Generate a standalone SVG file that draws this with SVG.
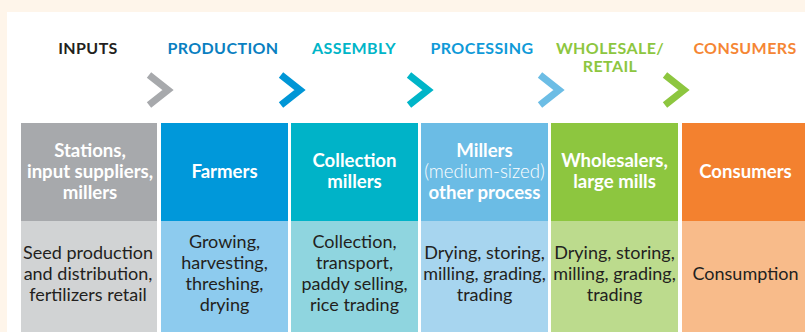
<svg xmlns="http://www.w3.org/2000/svg" width="805" height="332" viewBox="0 0 805 332">
  <style>
    .stage { font-family: Lato, "Open Sans", "Liberation Sans", sans-serif; font-weight: 700; font-size: 16px; text-anchor: middle; letter-spacing: 0.4px; }
    .head { font-family: Lato, "Open Sans", "Liberation Sans", sans-serif; font-weight: 700; font-size: 18.6px; fill: #ffffff; text-anchor: middle; }
    .light { font-weight: 300; }
    .desc { font-family: Lato, "Open Sans", "Liberation Sans", sans-serif; font-weight: 400; font-size: 18px; fill: #231f20; text-anchor: middle; }
    .chev { fill: none; stroke-width: 7; stroke-linecap: butt; stroke-linejoin: miter; stroke-miterlimit: 10; }
  </style>

  <!-- page background and white panel -->
  <rect x="0" y="0" width="805" height="332" fill="#fef5ea"/>
  <rect x="7" y="12" width="798" height="320" fill="#ffffff"/>

  <!-- stage titles -->
  <g id="stage-titles" class="stage">
    <text x="88" y="54" fill="#231f20">INPUTS</text>
    <text x="223" y="54" fill="#0a7fc1">PRODUCTION</text>
    <text x="354" y="54" fill="#00b5c8">ASSEMBLY</text>
    <text x="482" y="54" fill="#0f9ad8">PROCESSING</text>
    <text x="610" y="54" fill="#8dc63f">WHOLESALE/</text>
    <text x="610" y="72" fill="#8dc63f">RETAIL</text>
    <text x="745" y="54" fill="#f58634">CONSUMERS</text>
  </g>

  <!-- flow chevrons between stages -->
  <g id="connectors" class="chev">
    <polyline points="149,75 168,90 149,105" stroke="#a7a9ac"/>
    <polyline points="281,75 300,90 281,105" stroke="#0096d6"/>
    <polyline points="409,75 428,90 409,105" stroke="#00b5c8"/>
    <polyline points="540,75 559,90 540,105" stroke="#6cbde5"/>
    <polyline points="665,75 684,90 665,105" stroke="#8dc63f"/>
  </g>

  <!-- inputs -->
  <g id="node-inputs">
    <rect x="21" y="123" width="136" height="98" fill="#a7a9ac"/>
    <rect x="21" y="221" width="136" height="111" fill="#d1d3d4"/>
    <text class="head" x="90" y="157">Stations,</text>
    <text class="head" x="90" y="178">input suppliers,</text>
    <text class="head" x="90" y="199">millers</text>
    <text class="desc" x="88" y="259">Seed production</text>
    <text class="desc" x="88" y="280">and distribution,</text>
    <text class="desc" x="88" y="301">fertilizers retail</text>
  </g>

  <!-- production -->
  <g id="node-production">
    <rect x="161" y="123" width="127" height="98" fill="#0098da"/>
    <rect x="161" y="221" width="127" height="111" fill="#8dcbee"/>
    <text class="head" x="224.5" y="178">Farmers</text>
    <text class="desc" x="224.5" y="248">Growing,</text>
    <text class="desc" x="224.5" y="269">harvesting,</text>
    <text class="desc" x="224.5" y="290">threshing,</text>
    <text class="desc" x="224.5" y="311">drying</text>
  </g>

  <!-- assembly -->
  <g id="node-assembly">
    <rect x="291" y="123" width="127" height="98" fill="#00b3c8"/>
    <rect x="291" y="221" width="127" height="111" fill="#8fd5df"/>
    <text class="head" x="354.5" y="167">Collection</text>
    <text class="head" x="354.5" y="188">millers</text>
    <text class="desc" x="354.5" y="248">Collection,</text>
    <text class="desc" x="354.5" y="269">transport,</text>
    <text class="desc" x="354.5" y="290">paddy selling,</text>
    <text class="desc" x="354.5" y="311">rice trading</text>
  </g>

  <!-- processing -->
  <g id="node-processing">
    <rect x="421" y="123" width="127" height="98" fill="#6bbce5"/>
    <rect x="421" y="221" width="127" height="111" fill="#a7d5ef"/>
    <text class="head" x="484.5" y="157">Millers</text>
    <text class="head light" x="484.5" y="178">(medium-sized)</text>
    <text class="head" x="484.5" y="199">other process</text>
    <text class="desc" x="484.5" y="259">Drying, storing,</text>
    <text class="desc" x="484.5" y="280">milling, grading,</text>
    <text class="desc" x="484.5" y="301">trading</text>
  </g>

  <!-- wholesale / retail -->
  <g id="node-wholesale">
    <rect x="551" y="123" width="127" height="98" fill="#8dc63f"/>
    <rect x="551" y="221" width="127" height="111" fill="#bcdb8d"/>
    <text class="head" x="614.5" y="167">Wholesalers,</text>
    <text class="head" x="614.5" y="188">large mills</text>
    <text class="desc" x="614.5" y="259">Drying, storing,</text>
    <text class="desc" x="614.5" y="280">milling, grading,</text>
    <text class="desc" x="614.5" y="301">trading</text>
  </g>

  <!-- consumers -->
  <g id="node-consumers">
    <rect x="682" y="123" width="123" height="98" fill="#f3812f"/>
    <rect x="682" y="221" width="123" height="111" fill="#f8bb8a"/>
    <text class="head" x="745.5" y="178">Consumers</text>
    <text class="desc" x="745.5" y="280">Consumption</text>
  </g>
</svg>
